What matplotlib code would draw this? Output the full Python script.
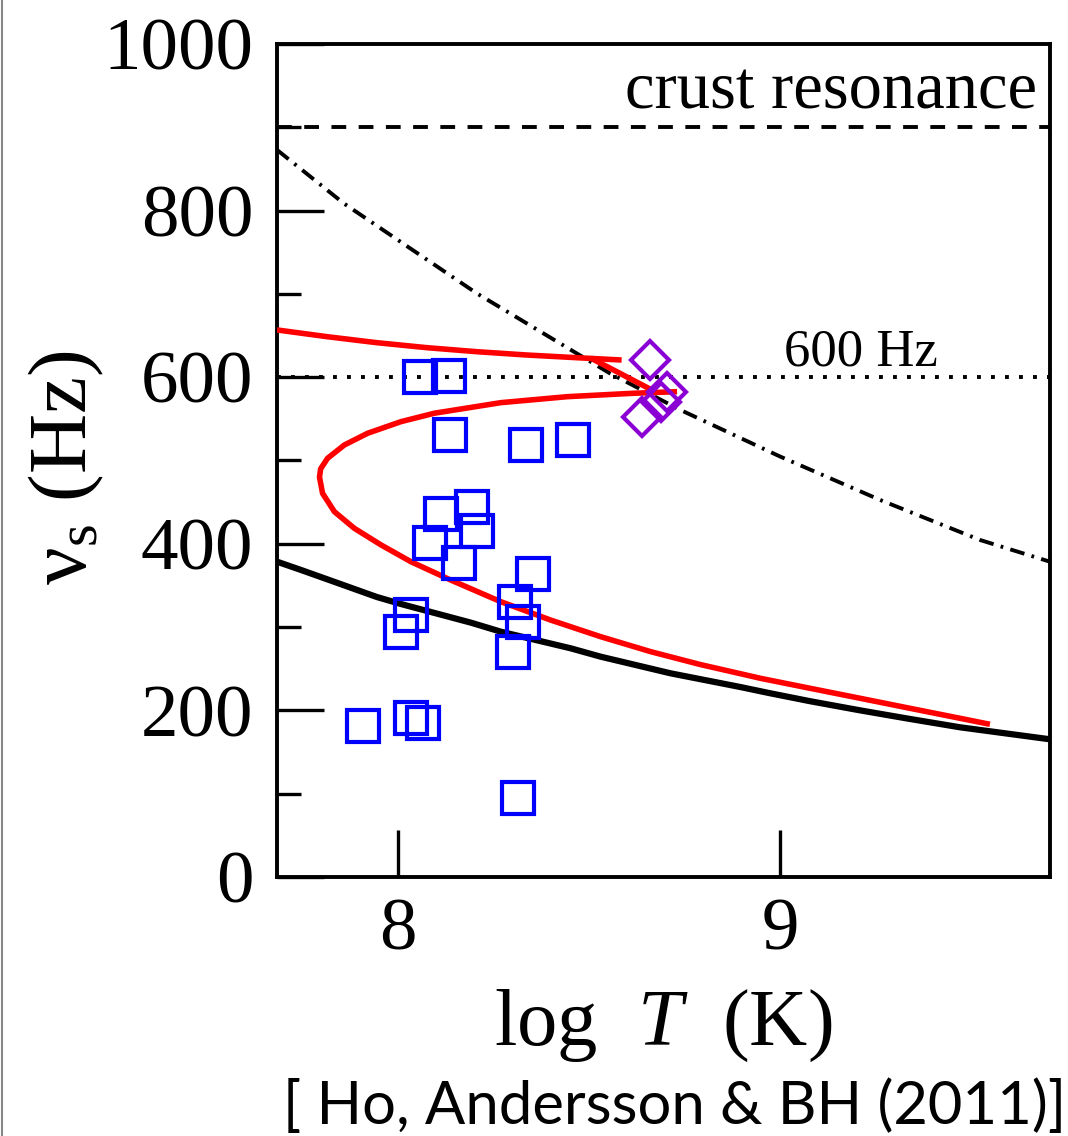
import matplotlib
matplotlib.use('Agg')

import matplotlib.pyplot as plt
from matplotlib.lines import Line2D
from matplotlib.ticker import MultipleLocator

plt.rcParams['font.family'] = ['Liberation Serif', 'DejaVu Serif']
plt.rcParams['mathtext.fontset'] = 'custom'
plt.rcParams['mathtext.rm'] = 'Liberation Serif'
plt.rcParams['mathtext.it'] = 'Liberation Serif:italic'

# observed LMXB sources (log T, spin frequency)
square_logT = [8.058, 8.134, 8.137, 8.335, 8.459, 8.195, 8.112, 8.206, 8.083, 8.161,
               8.352, 8.306, 8.328, 8.035, 8.009, 8.300, 7.909, 8.035, 8.065, 8.314]
square_nu = [600.6, 601.0, 530.6, 518.6, 524.6, 443.8, 435.4, 415.8, 401.3, 377.3,
             363.7, 329.8, 306.4, 314.5, 294.5, 270.5, 181.6, 191.2, 185.2, 95.2]

diamond_logT = [8.659, 8.704, 8.687, 8.639]
diamond_nu = [620.6, 582.5, 570.5, 551.8]

# instability window, solid black
window_logT = [7.684, 7.747, 7.815, 7.945, 8.008, 8.191, 8.269, 8.452, 8.530, 8.713,
               8.896, 8.974, 9.078, 9.209, 9.339, 9.470, 9.705]
window_nu = [378.5, 368.5, 357.4, 336.1, 327.7, 305.3, 294.5, 274.5, 264.5, 244.5,
             228.0, 220.5, 211.0, 200.0, 189.7, 179.7, 165.3]

# dash-dot curve
dashdot_logT = [7.684, 7.858, 8.032, 8.206, 8.380, 8.554, 8.739, 9.000, 9.261, 9.522, 9.705]
dashdot_nu = [872.8, 808.8, 754.7, 700.7, 652.7, 604.7, 560.6, 504.6, 452.6, 404.6, 378.5]

# red curve: upper branch, connecting piece, lower C branch
red_upper_logT = [7.684, 7.815, 7.945, 8.076, 8.206, 8.337, 8.467, 8.585]
red_upper_nu = [656.7, 648.6, 641.4, 635.4, 630.6, 626.6, 623.4, 620.6]
red_link_logT = [8.504, 8.674]
red_link_nu = [623.0, 582.2]
red_lower_logT = [8.730, 8.617, 8.443, 8.269, 8.095, 8.008, 7.921, 7.860, 7.816, 7.798,
                  7.795, 7.803, 7.834, 7.886, 7.956, 8.034, 8.138, 8.269, 8.399, 8.530,
                  8.661, 8.791, 8.896, 8.948, 9.078, 9.209, 9.339, 9.470, 9.548]
red_lower_nu = [582.6, 580.7, 576.6, 569.4, 556.7, 546.6, 532.7, 518.6, 502.6, 490.0,
                480.0, 460.6, 438.5, 418.6, 398.6, 378.5, 356.5, 330.5, 308.5, 288.5,
                270.5, 255.0, 244.0, 238.5, 226.5, 214.5, 202.5, 190.5, 183.3]

crust_nu = 900
limit_nu = 600

fig = plt.figure(figsize=(10.68, 11.36), dpi=100)
ax = fig.add_axes([0.2594, 0.228, 0.7237, 0.7333])

ax.axhline(limit_nu, color='black', lw=2.8, dashes=(1, 2.6), zorder=1)
ax.axhline(crust_nu, color='black', lw=2.8, dashes=(3.8, 3.2), zorder=1)
ax.plot(dashdot_logT, dashdot_nu, color='black', lw=2.8, dashes=(3.8, 1.9, 0.7, 1.9), zorder=2)
ax.plot(window_logT, window_nu, color='black', lw=4.5, zorder=2)
for xs, ys in [(red_upper_logT, red_upper_nu), (red_link_logT, red_link_nu),
               (red_lower_logT, red_lower_nu)]:
    ax.plot(xs, ys, color='#ff0000', lw=4, zorder=3, solid_capstyle='butt',
            solid_joinstyle='round')
ax.plot(square_logT, square_nu, ls='none', marker='s', ms=23.5, mfc='none',
        mec='#0000ff', mew=3, zorder=4)
ax.plot(diamond_logT, diamond_nu, ls='none', marker='D', ms=19.5, mfc='none',
        mec='#8a00d4', mew=3, zorder=4)

ax.text(9.671, 922, 'crust resonance', ha='right', va='baseline', fontsize=48)
ax.text(9.21, 614, '600 Hz', ha='center', va='baseline', fontsize=38)

ax.set_xlim(7.684, 9.705)
ax.set_ylim(0, 1000)
ax.xaxis.set_major_locator(MultipleLocator(1))
ax.yaxis.set_major_locator(MultipleLocator(200))
ax.set_yticks([100, 300, 500, 700, 900], minor=True)
ax.tick_params(which='both', direction='in', top=False, right=False, width=2.4)
ax.tick_params(which='major', length=34, labelsize=54)
ax.tick_params(axis='y', which='major', pad=17)
ax.tick_params(axis='x', which='major', pad=15)
ax.tick_params(which='minor', length=17)
for s in ax.spines.values():
    s.set_linewidth(2.8)

fig.text(0.062, 0.588, 'ν$_{\\rm s}$ (Hz)', rotation=90, ha='center', va='center', fontsize=60)
fig.text(0.621, 0.0801, 'log  $\\mathit{T}$  (K)', ha='center', va='baseline', fontsize=58)
fig.text(0.265, 0.0105, '[ Ho, Andersson & BH (2011)]', ha='left', va='baseline',
         fontsize=43, family=['Lato', 'DejaVu Sans'])

fig.add_artist(Line2D([0.002, 0.002], [0, 1], color='#888888', lw=1.5,
                      transform=fig.transFigure))

fig.savefig('out.png', dpi=100)
